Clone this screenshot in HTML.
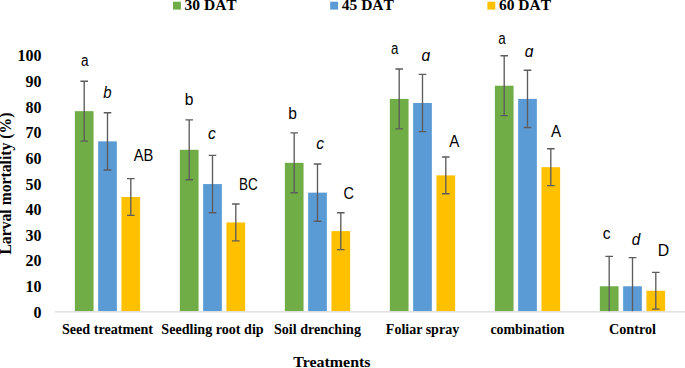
<!DOCTYPE html>
<html><head><meta charset="utf-8"><title>Chart</title>
<style>
html,body{margin:0;padding:0;background:#fff;}
body{width:685px;height:368px;overflow:hidden;}
svg{display:block;}
.sb{font-family:"Liberation Serif",serif;font-weight:bold;font-size:15.3px;fill:#000;}
.lg{font-size:15.2px;font-kerning:none;}
.yn{font-size:16px;}
.yt{font-size:15.8px;}
.s{font-family:"Liberation Sans",sans-serif;font-size:15.6px;fill:#000;}
.si{font-family:"Liberation Sans",sans-serif;font-size:15.6px;font-style:italic;fill:#000;}
.S{font-family:"Liberation Sans",sans-serif;font-size:15.8px;fill:#000;}
</style></head><body>
<svg width="685" height="368" viewBox="0 0 685 368">
<rect width="685" height="368" fill="#fff"/>
<defs><clipPath id="pa"><rect x="55.0" y="0" width="630.0" height="311.2"/></clipPath></defs>
<rect x="74.85" y="111.16" width="18.7" height="200.04" fill="#70ad47"/>
<rect x="98.15" y="141.35" width="18.7" height="169.85" fill="#5b9bd5"/>
<rect x="121.45" y="196.99" width="18.7" height="114.21" fill="#ffc000"/>
<rect x="179.85" y="149.79" width="18.7" height="161.41" fill="#70ad47"/>
<rect x="203.15" y="184.07" width="18.7" height="127.13" fill="#5b9bd5"/>
<rect x="226.45" y="222.44" width="18.7" height="88.76" fill="#ffc000"/>
<rect x="284.85" y="162.84" width="18.7" height="148.36" fill="#70ad47"/>
<rect x="308.15" y="192.64" width="18.7" height="118.56" fill="#5b9bd5"/>
<rect x="331.45" y="231.13" width="18.7" height="80.07" fill="#ffc000"/>
<rect x="389.85" y="98.89" width="18.7" height="212.31" fill="#70ad47"/>
<rect x="413.15" y="102.98" width="18.7" height="208.22" fill="#5b9bd5"/>
<rect x="436.45" y="175.37" width="18.7" height="135.83" fill="#ffc000"/>
<rect x="494.85" y="85.71" width="18.7" height="225.49" fill="#70ad47"/>
<rect x="518.15" y="98.89" width="18.7" height="212.31" fill="#5b9bd5"/>
<rect x="541.45" y="167.18" width="18.7" height="144.02" fill="#ffc000"/>
<rect x="599.85" y="286.26" width="18.7" height="24.94" fill="#70ad47"/>
<rect x="623.15" y="286.26" width="18.7" height="24.94" fill="#5b9bd5"/>
<rect x="646.45" y="290.74" width="18.7" height="20.46" fill="#ffc000"/>
<line x1="54.7" y1="311.8" x2="685" y2="311.8" stroke="#d9d9d9" stroke-width="1.2"/>
<g clip-path="url(#pa)" stroke="#5c5c5c" stroke-width="1.35" fill="none">
<path d="M84.20 81.24V141.09M80.40 81.24H88.00M80.40 141.09H88.00"/>
<path d="M107.50 112.70V170.00M103.70 112.70H111.30M103.70 170.00H111.30"/>
<path d="M130.80 178.57V215.40M127.00 178.57H134.60M127.00 215.40H134.60"/>
<path d="M189.20 119.86V179.72M185.40 119.86H193.00M185.40 179.72H193.00"/>
<path d="M212.50 155.42V212.72M208.70 155.42H216.30M208.70 212.72H216.30"/>
<path d="M235.80 204.02V240.85M232.00 204.02H239.60M232.00 240.85H239.60"/>
<path d="M294.20 132.91V192.76M290.40 132.91H298.00M290.40 192.76H298.00"/>
<path d="M317.50 163.99V221.29M313.70 163.99H321.30M313.70 221.29H321.30"/>
<path d="M340.80 212.72V249.55M337.00 212.72H344.60M337.00 249.55H344.60"/>
<path d="M399.20 68.96V128.81M395.40 68.96H403.00M395.40 128.81H403.00"/>
<path d="M422.50 74.33V131.63M418.70 74.33H426.30M418.70 131.63H426.30"/>
<path d="M445.80 156.95V193.79M442.00 156.95H449.60M442.00 193.79H449.60"/>
<path d="M504.20 55.78V115.64M500.40 55.78H508.00M500.40 115.64H508.00"/>
<path d="M527.50 70.24V127.54M523.70 70.24H531.30M523.70 127.54H531.30"/>
<path d="M550.80 148.77V185.60M547.00 148.77H554.60M547.00 185.60H554.60"/>
<path d="M609.20 256.33V316.19M605.40 256.33H613.00M605.40 316.19H613.00"/>
<path d="M632.50 257.61V314.91M628.70 257.61H636.30M628.70 314.91H636.30"/>
<path d="M655.80 272.32V309.15M652.00 272.32H659.60M652.00 309.15H659.60"/>
</g>
<text x="41.4" y="317.80" text-anchor="end" class="sb yn">0</text>
<text x="41.4" y="292.14" text-anchor="end" class="sb yn">10</text>
<text x="41.4" y="266.48" text-anchor="end" class="sb yn">20</text>
<text x="41.4" y="240.82" text-anchor="end" class="sb yn">30</text>
<text x="41.4" y="215.16" text-anchor="end" class="sb yn">40</text>
<text x="41.4" y="189.50" text-anchor="end" class="sb yn">50</text>
<text x="41.4" y="163.84" text-anchor="end" class="sb yn">60</text>
<text x="41.4" y="138.18" text-anchor="end" class="sb yn">70</text>
<text x="41.4" y="112.52" text-anchor="end" class="sb yn">80</text>
<text x="41.4" y="86.86" text-anchor="end" class="sb yn">90</text>
<text x="41.4" y="61.20" text-anchor="end" class="sb yn">100</text>
<text x="62.00" y="334" textLength="91.0" lengthAdjust="spacingAndGlyphs" class="sb">Seed treatment</text>
<text x="161.35" y="334" textLength="102.3" lengthAdjust="spacingAndGlyphs" class="sb">Seedling root dip</text>
<text x="274.00" y="334" textLength="87.0" lengthAdjust="spacingAndGlyphs" class="sb">Soil drenching</text>
<text x="385.85" y="334" textLength="73.3" lengthAdjust="spacingAndGlyphs" class="sb">Foliar spray</text>
<text x="490.40" y="334" textLength="74.2" lengthAdjust="spacingAndGlyphs" class="sb">combination</text>
<text x="608.95" y="334" textLength="47.1" lengthAdjust="spacingAndGlyphs" class="sb">Control</text>
<text x="293.3" y="367.3" textLength="77.2" lengthAdjust="spacingAndGlyphs" class="sb">Treatments</text>
<text transform="translate(10.8,254.6) rotate(-90)" textLength="142" lengthAdjust="spacingAndGlyphs" class="sb yt">Larval mortality (%)</text>
<rect x="173" y="1.7" width="7.9" height="7.9" fill="#70ad47"/>
<text x="184.6" y="10.35" textLength="52.1" lengthAdjust="spacingAndGlyphs" class="sb lg">30 DAT</text>
<rect x="330.2" y="1.7" width="7.9" height="7.9" fill="#5b9bd5"/>
<text x="341.8" y="10.35" textLength="52.1" lengthAdjust="spacingAndGlyphs" class="sb lg">45 DAT</text>
<rect x="487.4" y="1.7" width="7.9" height="7.9" fill="#ffc000"/>
<text x="499.0" y="10.35" textLength="52.1" lengthAdjust="spacingAndGlyphs" class="sb lg">60 DAT</text>
<text transform="translate(84.7,66.3) scale(0.870,1)" text-anchor="middle" class="s">a</text>
<text transform="translate(107.4,98) scale(0.960,1)" text-anchor="middle" class="si">b</text>
<text transform="translate(143.6,160.9) scale(0.930,1)" text-anchor="middle" class="S">AB</text>
<text transform="translate(189,104.5) scale(1.000,1)" text-anchor="middle" class="s">b</text>
<text transform="translate(212,138.7) scale(1.000,1)" text-anchor="middle" class="si">c</text>
<text transform="translate(248.4,190.2) scale(0.855,1)" text-anchor="middle" class="S">BC</text>
<text transform="translate(292.6,118.5) scale(1.000,1)" text-anchor="middle" class="s">b</text>
<text transform="translate(320.2,148.8) scale(1.000,1)" text-anchor="middle" class="si">c</text>
<text transform="translate(348.7,198.7) scale(0.920,1)" text-anchor="middle" class="S">C</text>
<text transform="translate(394.7,54.3) scale(0.850,1)" text-anchor="middle" class="s">a</text>
<text transform="translate(425.8,60.7) scale(1.000,1)" text-anchor="middle" class="si">ɑ</text>
<text transform="translate(454.3,146.7) scale(0.960,1)" text-anchor="middle" class="S">A</text>
<text transform="translate(502.1,44.1) scale(0.860,1)" text-anchor="middle" class="s">a</text>
<text transform="translate(529,57.0) scale(1.000,1)" text-anchor="middle" class="si">ɑ</text>
<text transform="translate(556.0,137.1) scale(0.960,1)" text-anchor="middle" class="S">A</text>
<text transform="translate(606.7,238.5) scale(1.000,1)" text-anchor="middle" class="s">c</text>
<text transform="translate(636,245) scale(0.980,1)" text-anchor="middle" class="si">d</text>
<text transform="translate(663.4,256.2) scale(1.000,1)" text-anchor="middle" class="S">D</text>
</svg>
</body></html>
